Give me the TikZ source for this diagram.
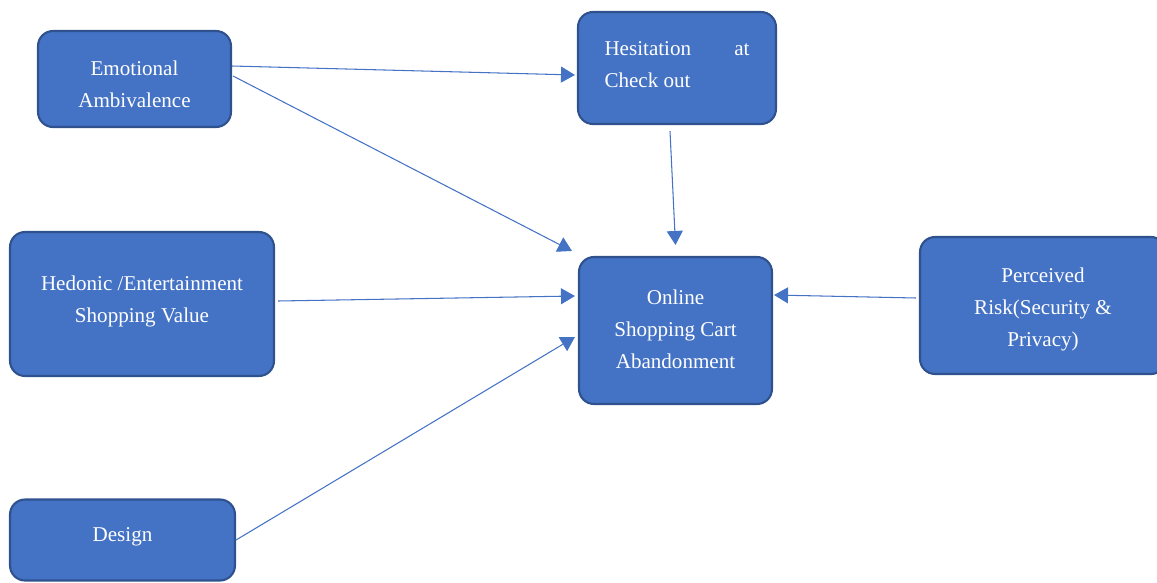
\documentclass[tikz,border=0pt]{standalone}
\usepackage{fontspec}
\setmainfont{Liberation Serif}
\usepackage{tikz}
\usetikzlibrary{arrows.meta,calc}
\definecolor{boxfill}{HTML}{4472C4}
\definecolor{boxline}{HTML}{2F528F}

\begin{document}
\begin{tikzpicture}[x=0.02cm,y=-0.02cm,
    box/.style={draw=boxline, line width=1.2pt, fill=boxfill, rounded corners=0.3cm,
        text=white, font=\fontsize{12}{18.2}\selectfont, align=center, inner sep=0pt},
    txt/.style={text=white, font=\fontsize{12}{18.2}\selectfont, align=center, inner sep=0pt},
    arr/.style={draw=boxfill, line width=0.6pt, -{Triangle[length=0.28cm,width=0.32cm]}}]
    \useasboundingbox (0,0) rectangle (1157,582);
    \node[box, minimum width=3.86cm, minimum height=1.92cm,
        label={[txt,yshift=-2.8pt]center:Emotional\\Ambivalence}] (emo) at (134.5,79) {};
    \node[box, minimum width=3.96cm, minimum height=2.24cm, text width=2.9cm, align=justify] (hes) at (677,68) {Hesitation at Check out\par\vspace{4pt}};
    \node[box, minimum width=5.28cm, minimum height=2.88cm,
        label={[txt,yshift=1.7pt]center:Hedonic /Entertainment\\Shopping Value}] (hed) at (142,304) {};
    \node[box, minimum width=3.86cm, minimum height=2.94cm,
        label={[txt,yshift=0.8pt]center:Online\\Shopping Cart\\Abandonment}] (onl) at (675.5,330.5) {};
    \node[box, minimum width=4.92cm, minimum height=2.74cm,
        label={[txt,yshift=-2.3pt]center:Perceived\\Risk(Security \&\\Privacy)}] (per) at (1043,305.5) {};
    \node[box, minimum width=4.5cm, minimum height=1.62cm,
        label={[txt,yshift=1.7pt]center:Design}] (des) at (122.5,540) {};
    % arrows
    \draw[arr] ($(emo.east)+(0,-13)$) -- ($(hes.west)+(-2,7)$);
    \draw[arr] ($(emo.east)+(1,-3)$) -- ($(onl.north west)+(-6,-5)$);
    \draw[arr] ($(hes.south)+(-7,6)$) -- ($(onl.north)+(0,-11)$);
    \draw[arr] ($(hed.east)+(3,-3)$) -- ($(onl.west)+(-3,-34.5)$);
    \draw[arr] (des.east) -- ($(onl.west)+(-3,6.5)$);
    \draw[arr] ($(per.west)+(-3,-7.5)$) -- ($(onl.east)+(1,-35.5)$);
\end{tikzpicture}
\end{document}
